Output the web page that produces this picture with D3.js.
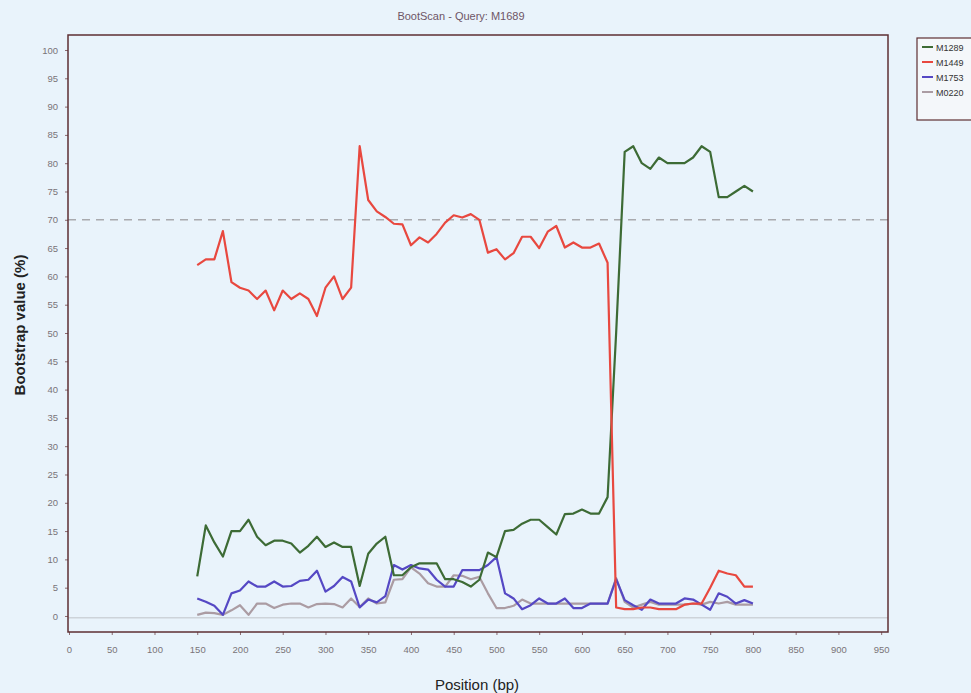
<!DOCTYPE html>
<html>
<head>
<meta charset="utf-8">
<script src="https://cdn.jsdelivr.net/npm/d3@7"></script>
<style>
  body { margin: 0; background: #e9f3fb; }
  svg { display: block; }
</style>
</head>
<body>
<div id="chart"></div>
<script>
// bootscan positions (bp) and bootstrap values (%) per reference strain
var positions = d3.range(150, 801, 10);

var m1289 = [7, 16, 13, 10.5, 15, 15, 17, 14, 12.5, 13.3, 13.3, 12.8, 11.2, 12.4, 14, 12.2, 13, 12.2, 12.2, 5.3,
  11, 12.8, 14, 7.2, 7.2, 8.6, 9.3, 9.3, 9.3, 6.5, 6.5, 6, 5.2, 6.4, 11.2, 10.4, 15, 15.2, 16.3, 17,
  17, 15.7, 14.4, 18, 18.1, 18.8, 18.1, 18.1, 21, 50, 82, 83, 80, 79, 81, 80, 80, 80, 81, 83,
  82, 74, 74, 75, 76, 75];

var m1449 = [62, 63, 63, 68, 59, 58, 57.5, 56, 57.5, 54, 57.5, 56, 57, 56, 53, 58, 60, 56, 58, 83,
  73.5, 71.5, 70.5, 69.3, 69.2, 65.5, 66.9, 66, 67.5, 69.5, 70.8, 70.4, 71, 70, 64.2, 64.8, 63, 64.1, 67, 67,
  65, 67.9, 68.9, 65.1, 66, 65.1, 65.1, 65.8, 62.4, 1.5, 1.2, 1.2, 1.5, 1.5, 1.2, 1.2, 1.2, 2, 2.2, 2.2,
  5, 8, 7.5, 7.2, 5.2, 5.2];

var m1753 = [3.1, 2.5, 1.8, 0.2, 4, 4.5, 6.1, 5.2, 5.2, 6.1, 5.2, 5.3, 6.2, 6.4, 8, 4.3, 5.3, 6.9, 6.1, 1.5,
  2.9, 2.4, 3.5, 9, 8.2, 9, 8.4, 8.2, 6.4, 5.2, 5.2, 8.1, 8.1, 8.1, 9, 10.4, 4, 3.1, 1.2, 1.9,
  3.1, 2.2, 2.2, 3.1, 1.4, 1.4, 2.2, 2.2, 2.2, 6.5, 2.8, 1.9, 1.1, 2.9, 2.2, 2.2, 2.2, 3.1, 2.9, 2,
  1.1, 4, 3.4, 2.2, 2.8, 2.2];

var m0220 = [0.2, 0.6, 0.5, 0.2, 1, 1.9, 0.2, 2.2, 2.2, 1.4, 2, 2.2, 2.2, 1.5, 2.1, 2.2, 2.1, 1.5, 3.1, 1.6,
  3.1, 2.2, 2.4, 6.4, 6.5, 8.6, 7.5, 5.8, 5.2, 5.2, 7.2, 7.1, 6.5, 6.9, 4, 1.4, 1.4, 1.8, 2.9, 2.2,
  2.2, 2.2, 2.2, 2.2, 2.2, 2.2, 2.2, 2.2, 2.2, 6.7, 2.5, 1.5, 2, 2.5, 2, 2, 2, 2, 2.2, 2,
  2.5, 2.2, 2.5, 2, 2, 2];

var seriesNames = ["M1289", "M1449", "M1753", "M0220"];
var seriesValues = [m1289, m1449, m1753, m0220];
var seriesColors = ["#3d6b35", "#e8483f", "#5548c4", "#ab9ca3"];

var xTicks = d3.range(0, 951, 50);
var yTicks = d3.range(0, 101, 5);
var cutoff = 70;

var width = 971, height = 693;
var plot = {left: 68, right: 888, top: 35, bottom: 632};

var svg = d3.select("#chart").append("svg")
  .attr("width", width)
  .attr("height", height);

var x = d3.scaleLinear().domain([0, 958]).range([69, plot.right]);
var y = d3.scaleLinear().domain([-2.83, 102.65]).range([plot.bottom, plot.top]);

// title
svg.append("text")
  .attr("x", 461).attr("y", 20)
  .attr("text-anchor", "middle")
  .style("font-family", "Liberation Sans, Arial, sans-serif")
  .style("font-size", "11px")
  .attr("fill", "#6e5566")
  .text("BootScan - Query: M1689");

// axes
var xAxis = svg.append("g")
  .attr("transform", "translate(0," + plot.bottom + ")")
  .call(d3.axisBottom(x).tickValues(xTicks).tickSize(3).tickPadding(11));
var yAxis = svg.append("g")
  .attr("transform", "translate(" + plot.left + ",0)")
  .call(d3.axisLeft(y).tickValues(yTicks).tickSize(3).tickPadding(7));

[xAxis, yAxis].forEach(function(g){
  g.select(".domain").remove();
  g.selectAll(".tick line").attr("stroke", "#8a6a70");
  g.selectAll(".tick text")
    .attr("fill", "#7a7478")
    .style("font-family", "Liberation Sans Narrow, Liberation Sans, Arial, sans-serif")
    .style("font-size", "9.5px");
});

// faint baseline just under zero
svg.append("line")
  .attr("x1", plot.left).attr("x2", plot.right)
  .attr("y1", y(-0.3)).attr("y2", y(-0.3))
  .attr("stroke", "#cdd3d9").attr("stroke-width", 1.5);

// 70% cutoff
svg.append("line")
  .attr("x1", plot.left).attr("x2", plot.right)
  .attr("y1", y(cutoff)).attr("y2", y(cutoff))
  .attr("stroke", "#a9aaae").attr("stroke-width", 1.5)
  .attr("stroke-dasharray", "8,6");

var line = d3.line()
  .x(function(d, i){ return x(positions[i]); })
  .y(function(d){ return y(d); });

// draw back to front so green/red sit on top
[3, 2, 0, 1].forEach(function(k){
  svg.append("path")
    .datum(seriesValues[k])
    .attr("fill", "none")
    .attr("stroke", seriesColors[k])
    .attr("stroke-width", 2.2)
    .attr("stroke-linejoin", "round")
    .attr("d", line);
});

// frame
svg.append("rect")
  .attr("x", plot.left).attr("y", plot.top)
  .attr("width", plot.right - plot.left).attr("height", plot.bottom - plot.top)
  .attr("fill", "none")
  .attr("stroke", "#5e2f33").attr("stroke-width", 1.5);

// axis titles
svg.append("text")
  .attr("transform", "translate(25,325) rotate(-90)")
  .attr("text-anchor", "middle")
  .style("font-family", "Liberation Sans, Arial, sans-serif")
  .style("font-size", "15px")
  .style("font-weight", "bold")
  .attr("fill", "#222")
  .text("Bootstrap value (%)");

svg.append("text")
  .attr("x", 477).attr("y", 690)
  .attr("text-anchor", "middle")
  .style("font-family", "Liberation Sans, Arial, sans-serif")
  .style("font-size", "15px")
  .attr("fill", "#222")
  .text("Position (bp)");

// legend
var legend = svg.append("g").attr("transform", "translate(917,38)");
legend.append("rect")
  .attr("x", 0).attr("y", 0)
  .attr("width", 60).attr("height", 82)
  .attr("fill", "#f4f7fa")
  .attr("stroke", "#5e2f33").attr("stroke-width", 1.2);

seriesNames.forEach(function(name, i){
  var row = legend.append("g").attr("transform", "translate(0," + (9 + i * 15) + ")");
  row.append("line")
    .attr("x1", 5).attr("x2", 16)
    .attr("stroke", seriesColors[i]).attr("stroke-width", 2);
  row.append("text")
    .attr("x", 19).attr("y", 3.5)
    .style("font-family", "Liberation Sans, Arial, sans-serif")
    .style("font-size", "9px")
    .attr("fill", "#333")
    .text(name);
});
</script>
</body>
</html>
